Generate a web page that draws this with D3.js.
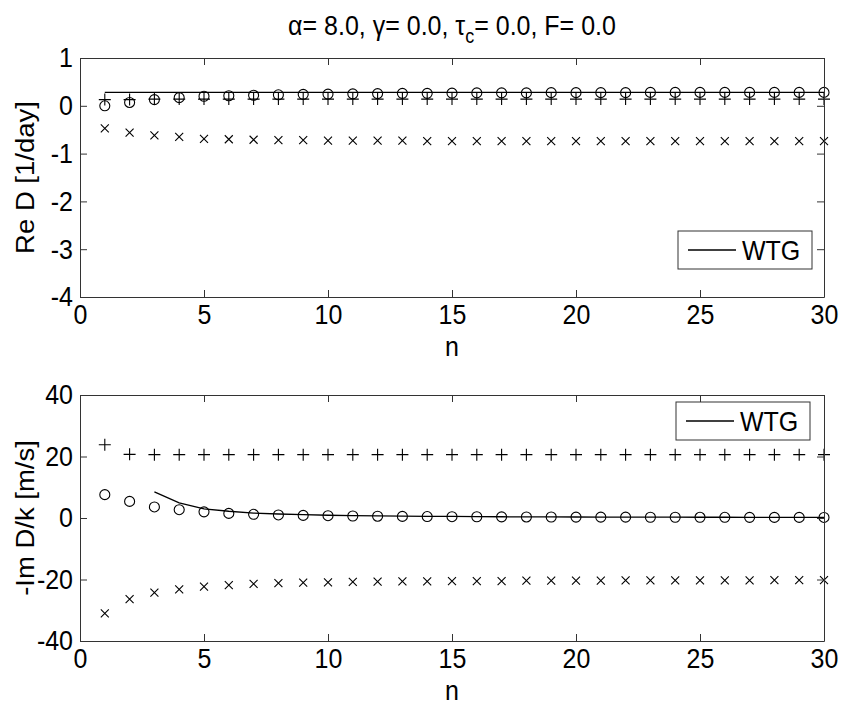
<!DOCTYPE html>
<html>
<head>
<meta charset="utf-8">
<script src="https://cdn.jsdelivr.net/npm/d3@7"></script>
<style>
  body { margin: 0; background: #fff; }
  svg text { font-family: "Liberation Sans", Arial, Helvetica, sans-serif; fill: #000; }
</style>
</head>
<body>
<div class="chart"></div>
<script>
// data
const n_values = d3.range(1, 31);

// top panel: Re D [1/day]
const re_wtg_n = [1, 30];
const re_wtg = [0.28, 0.28];
const re_circle = [0.00, 0.07, 0.13, 0.17, 0.20, 0.21, 0.22, 0.23, 0.24, 0.245,
                   0.25, 0.255, 0.26, 0.26, 0.265, 0.27, 0.27, 0.27, 0.275, 0.275,
                   0.275, 0.275, 0.28, 0.28, 0.28, 0.28, 0.28, 0.28, 0.28, 0.28];
const re_plus = [0.13, 0.13, 0.14, 0.14, 0.14, 0.14, 0.14, 0.14, 0.14, 0.14,
                 0.14, 0.14, 0.14, 0.14, 0.14, 0.14, 0.14, 0.14, 0.14, 0.14,
                 0.14, 0.14, 0.14, 0.14, 0.14, 0.14, 0.14, 0.14, 0.14, 0.14];
const re_cross = [-0.47, -0.56, -0.62, -0.65, -0.69, -0.70, -0.71, -0.72, -0.72, -0.73,
                  -0.73, -0.73, -0.73, -0.74, -0.74, -0.74, -0.74, -0.74, -0.74, -0.74,
                  -0.74, -0.74, -0.74, -0.74, -0.74, -0.74, -0.74, -0.74, -0.74, -0.74];

// bottom panel: -Im D/k [m/s]
const im_wtg_n = d3.range(3, 31);
const im_wtg = [8.5, 4.9, 3.0, 2.2, 1.6, 1.3, 1.1, 0.9, 0.8, 0.7,
                0.6, 0.55, 0.5, 0.45, 0.4, 0.38, 0.35, 0.33, 0.3, 0.29,
                0.27, 0.26, 0.25, 0.24, 0.23, 0.22, 0.21, 0.2];
const im_circle = [7.6, 5.4, 3.6, 2.7, 2.0, 1.5, 1.2, 1.0, 0.85, 0.75,
                   0.65, 0.58, 0.52, 0.47, 0.43, 0.4, 0.37, 0.34, 0.32, 0.3,
                   0.28, 0.27, 0.25, 0.24, 0.23, 0.22, 0.21, 0.2, 0.19, 0.18];
const im_plus = [23.8, 20.7, 20.6, 20.6, 20.6, 20.6, 20.6, 20.6, 20.6, 20.6,
                 20.6, 20.6, 20.6, 20.6, 20.6, 20.6, 20.6, 20.6, 20.6, 20.6,
                 20.6, 20.6, 20.6, 20.6, 20.6, 20.6, 20.6, 20.6, 20.6, 20.6];
const im_cross = [-31.0, -26.4, -24.3, -23.2, -22.3, -21.8, -21.4, -21.2, -21.0, -20.9,
                  -20.8, -20.7, -20.6, -20.6, -20.5, -20.5, -20.5, -20.4, -20.4, -20.4,
                  -20.4, -20.3, -20.3, -20.3, -20.3, -20.3, -20.3, -20.2, -20.2, -20.2];

const x_ticks = [0, 5, 10, 15, 20, 25, 30];
const re_ticks = [-4, -3, -2, -1, 0, 1];
const im_ticks = [-40, -20, 0, 20, 40];

// canvas
const svg_width = 843;
const svg_height = 708;
const font_size = 25;
const stretch = 1.1;   // glyphs in the picture look a bit tall
const tick_len = 7;

const svg = d3.select('.chart').append('svg')
    .attr('width', svg_width)
    .attr('height', svg_height);

const x_scale = d3.scaleLinear().domain([0, 30]).range([80, 824]);

function draw_panel(opt){
    const y_scale = d3.scaleLinear().domain(opt.y_domain).range([opt.bottom, opt.top]);
    const g = svg.append('g');

    // markers
    const pts = n_values.map((n, i) => ({n: n, c: opt.circle[i], p: opt.plus[i], x: opt.cross[i]}));
    g.selectAll('.circ').data(pts).enter().append('circle')
        .attr('cx', d => x_scale(d.n)).attr('cy', d => y_scale(d.c))
        .attr('r', 5).attr('fill', 'none').attr('stroke', '#000').attr('stroke-width', 1.1);
    g.selectAll('.plus').data(pts).enter().append('path')
        .attr('transform', d => `translate(${x_scale(d.n)},${y_scale(d.p)})`)
        .attr('d', 'M-6,0H6M0,-6V6').attr('stroke', '#000').attr('stroke-width', 1.1);
    g.selectAll('.cross').data(pts).enter().append('path')
        .attr('transform', d => `translate(${x_scale(d.n)},${y_scale(d.x)})`)
        .attr('d', 'M-4,-4L4,4M-4,4L4,-4').attr('stroke', '#000').attr('stroke-width', 1.1);

    // WTG line
    const line = d3.line().x(d => x_scale(d[0])).y(d => y_scale(d[1]));
    g.append('path')
        .datum(opt.wtg_n.map((n, i) => [n, opt.wtg[i]]))
        .attr('d', line).attr('fill', 'none').attr('stroke', '#000').attr('stroke-width', 1.3);

    // axes, MATLAB style: ticks inward on all four sides
    const ax_color = '#333';
    const bottom_axis = d3.axisBottom(x_scale).tickValues(x_ticks).tickFormat(d => String(d))
        .tickSizeInner(-tick_len).tickSizeOuter(0).tickPadding(7);
    const bx = g.append('g').attr('transform', `translate(0,${opt.bottom})`).call(bottom_axis);
    const top_axis = d3.axisTop(x_scale).tickValues(x_ticks).tickFormat('')
        .tickSizeInner(-tick_len).tickSizeOuter(0);
    const tx = g.append('g').attr('transform', `translate(0,${opt.top})`).call(top_axis);
    const left_axis = d3.axisLeft(y_scale).tickValues(opt.y_ticks).tickFormat(d => String(d))
        .tickSizeInner(-tick_len).tickSizeOuter(0).tickPadding(7);
    const ly = g.append('g').attr('transform', `translate(80,0)`).call(left_axis);
    const right_axis = d3.axisRight(y_scale).tickValues(opt.y_ticks).tickFormat('')
        .tickSizeInner(-tick_len).tickSizeOuter(0);
    const ry = g.append('g').attr('transform', `translate(824,0)`).call(right_axis);
    [bx, tx, ly, ry].forEach(a => {
        a.select('.domain').attr('stroke', ax_color);
        a.selectAll('.tick line').attr('stroke', ax_color);
        a.selectAll('text').style('font-size', font_size + 'px').attr('fill', '#000')
            .attr('transform', `scale(1,${stretch})`);
    });
    bx.selectAll('text').attr('dy', '0.71em');

    // axis labels
    g.append('text')
        .attr('transform', `translate(452,${opt.bottom + 59}) scale(1,${stretch})`)
        .attr('text-anchor', 'middle').style('font-size', font_size + 'px').text('n');
    g.append('text')
        .attr('transform', `translate(34,${(opt.top + opt.bottom) / 2}) rotate(-90) scale(${stretch},1)`)
        .attr('text-anchor', 'middle').style('font-size', font_size + 'px').text(opt.y_label);

    // legend
    const lg = g.append('g').attr('transform', `translate(${opt.legend[0]},${opt.legend[1]})`);
    lg.append('rect').attr('width', 134).attr('height', 38)
        .attr('fill', '#fff').attr('stroke', '#333').attr('stroke-width', 1);
    lg.append('line').attr('x1', 10).attr('x2', 58).attr('y1', 19).attr('y2', 19)
        .attr('stroke', '#000').attr('stroke-width', 1.3);
    lg.append('text').attr('transform', `translate(64,19) scale(1,${stretch})`).attr('dy', '0.36em')
        .style('font-size', font_size + 'px').text('WTG');
}

draw_panel({
    top: 58, bottom: 297, y_domain: [-4, 1], y_ticks: re_ticks,
    circle: re_circle, plus: re_plus, cross: re_cross,
    wtg_n: re_wtg_n, wtg: re_wtg,
    y_label: 'Re D [1/day]', legend: [678, 231]
});
draw_panel({
    top: 395, bottom: 641, y_domain: [-40, 40], y_ticks: im_ticks,
    circle: im_circle, plus: im_plus, cross: im_cross,
    wtg_n: im_wtg_n, wtg: im_wtg,
    y_label: '-Im D/k [m/s]', legend: [676, 402]
});

// title with subscript c
const title = svg.append('text')
    .attr('transform', `translate(452,35) scale(1,${stretch})`)
    .attr('text-anchor', 'middle').style('font-size', font_size + 'px');
title.append('tspan').text('α= 8.0, γ= 0.0, τ');
title.append('tspan').attr('dy', 7).style('font-size', '18px').text('c');
title.append('tspan').attr('dy', -7).text('= 0.0, F= 0.0');
</script>
</body>
</html>
